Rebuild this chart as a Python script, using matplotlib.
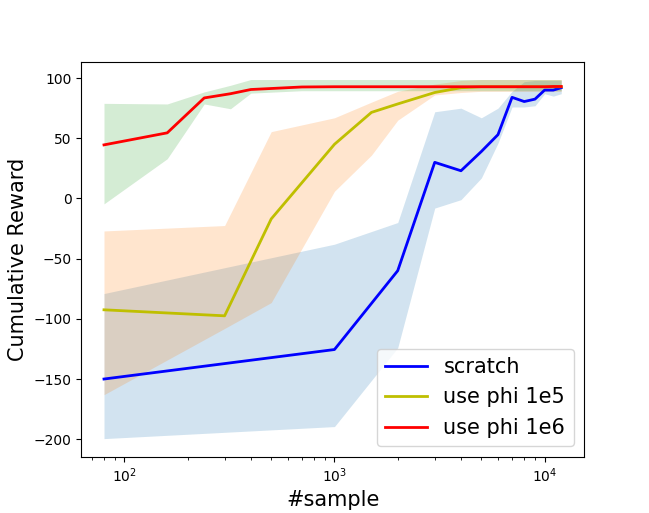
import matplotlib
matplotlib.use('Agg')
import matplotlib.pyplot as plt
import numpy as np

# scratch
x_scratch = [80, 1000, 2000, 3000, 4000, 5000, 6000, 7000, 8000, 9000, 10000, 11000, 12000]
mean_scratch = [-150, -125.5, -60, 30, 23, 39, 53, 84, 80.5, 82.5, 90, 90, 92]
low_scratch = [-199.5, -189.5, -124, -8, -1, 17, 46, 76, 76, 77, 87, 85, 87]
high_scratch = [-79, -38, -20, 72, 75, 67, 75, 89, 97, 98, 98, 98, 98]

# use phi 1e5
x_1e5 = [80, 300, 500, 1000, 1500, 2000, 3000, 4000, 5000, 6000, 7000, 8000, 9000, 10000, 11000, 12000]
mean_1e5 = [-92.5, -97.5, -17, 45, 71.5, 78.5, 88, 92, 92.8, 92.8, 92.8, 92.8, 92.8, 92.8, 92.8, 92.8]
low_1e5 = [-163, -108, -86.5, 6, 36, 65, 86, 88, 89, 89, 89, 89, 89, 89, 89, 89]
high_1e5 = [-27, -22.5, 55.5, 67, 80, 89, 95, 98, 98.8, 98.8, 98.8, 98.8, 98.8, 98.8, 98.8, 98.8]

# use phi 1e6
x_1e6 = [80, 160, 240, 320, 400, 700, 1000, 2000, 3000, 4000, 5000, 6000, 7000, 8000, 9000, 10000, 11000, 12000]
mean_1e6 = [44.5, 54.5, 83.5, 87, 90.5, 92.6, 92.8, 92.8, 92.8, 92.8, 92.8, 92.8, 92.8, 92.8, 92.8, 92.8, 93, 93]
low_1e6 = [-4.5, 33, 78.5, 74.5, 87.5, 89.5, 89.5, 89.5, 89.5, 89.5, 89.5, 89.5, 89.5, 89.5, 89.5, 89.5, 89.5, 89.5]
high_1e6 = [79, 78.5, 88.5, 94, 98.8, 98.8, 98.8, 98.8, 98.8, 98.8, 98.8, 98.8, 98.8, 98.8, 98.8, 98.8, 98.8, 98.8]

fig, ax = plt.subplots(figsize=(6.49, 5.13), dpi=100)

ax.fill_between(x_scratch, low_scratch, high_scratch, color='C0', alpha=0.2, linewidth=0)
ax.fill_between(x_1e5, low_1e5, high_1e5, color='C1', alpha=0.2, linewidth=0)
ax.fill_between(x_1e6, low_1e6, high_1e6, color='C2', alpha=0.2, linewidth=0)

ax.plot(x_scratch, mean_scratch, color='b', linewidth=2, label='scratch')
ax.plot(x_1e5, mean_1e5, color='y', linewidth=2, label='use phi 1e5')
ax.plot(x_1e6, mean_1e6, color='r', linewidth=2, label='use phi 1e6')

ax.set_xscale('log')
ax.set_xlabel('#sample', fontsize=15)
ax.set_ylabel('Cumulative Reward', fontsize=15)
ax.legend(loc='lower right', fontsize=15)

fig.savefig('out.png')
